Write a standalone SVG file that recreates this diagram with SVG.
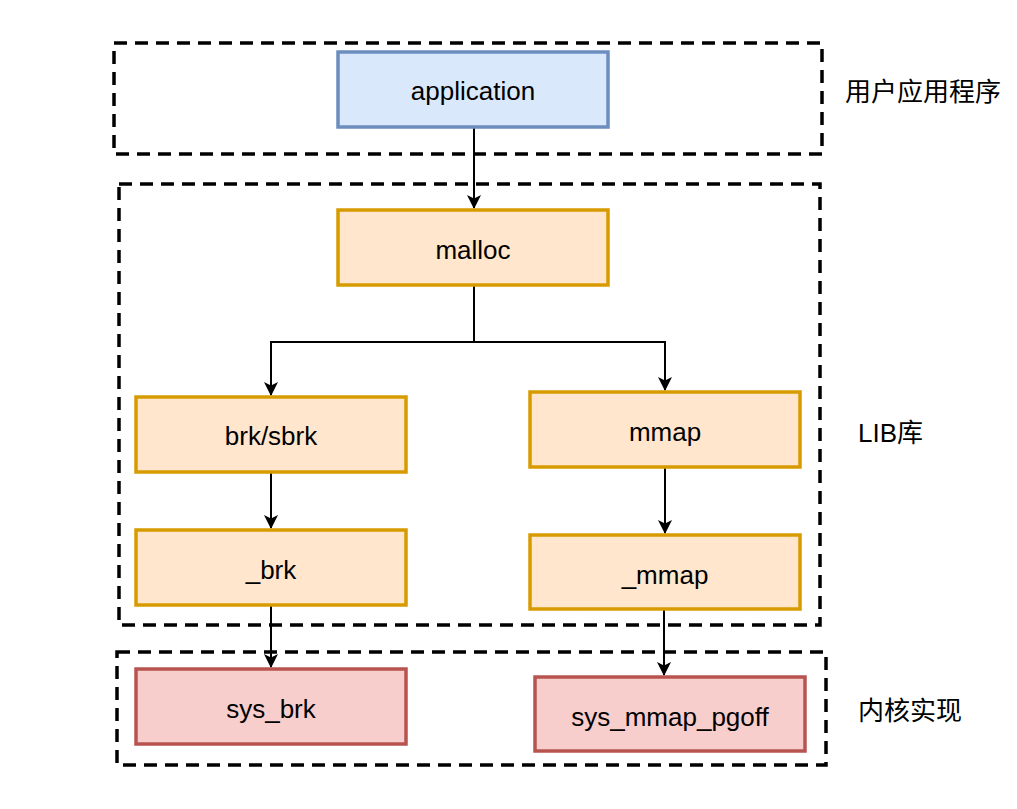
<svg xmlns="http://www.w3.org/2000/svg" width="1017" height="809" viewBox="0 0 1017 809">
<style>
.grp{fill:none;stroke:#000;stroke-width:3.5;stroke-dasharray:13 8}
.blue{fill:#dae8fc;stroke:#6c8ebf;stroke-width:3.5}
.orange{fill:#ffe6cc;stroke:#d79b00;stroke-width:3.5}
.red{fill:#f8cecc;stroke:#b85450;stroke-width:3.5}
text{font-family:"Liberation Sans","Noto Sans CJK SC",sans-serif;font-size:26px;fill:#000;dominant-baseline:central}
.c{text-anchor:middle}
.edge{fill:none;stroke:#000;stroke-width:2}
</style>
<defs>
<marker id="arr" viewBox="0 0 14 14" refX="13" refY="7" markerWidth="14" markerHeight="14" markerUnits="userSpaceOnUse" orient="auto">
<path d="M0,0 L14,7 L0,14 L3.5,7 Z" fill="#000"/>
</marker>
</defs>
<g id="groups">
<rect class="grp" x="114" y="43" width="708" height="111"/>
<rect class="grp" x="119" y="184" width="701" height="441"/>
<rect class="grp" x="117" y="652" width="709" height="113"/>
</g>
<g id="connectors">
<path class="edge" d="M474,128 V208" marker-end="url(#arr)"/>
<path class="edge" d="M474,285 V342 H271 V395" marker-end="url(#arr)"/>
<path class="edge" d="M474,342 H665 V390" marker-end="url(#arr)"/>
<path class="edge" d="M271,472 V528" marker-end="url(#arr)"/>
<path class="edge" d="M665,467 V533" marker-end="url(#arr)"/>
<path class="edge" d="M271,605 V667" marker-end="url(#arr)"/>
<path class="edge" d="M664,609 V675" marker-end="url(#arr)"/>
</g>
<g id="application"><rect class="blue" x="338" y="52" width="270" height="75"/><text class="c" x="473" y="91">application</text></g>
<g id="malloc"><rect class="orange" x="338" y="210" width="270" height="75"/><text class="c" x="473" y="250">malloc</text></g>
<g id="brk_sbrk"><rect class="orange" x="136" y="397" width="270" height="75"/><text class="c" x="271" y="436">brk/sbrk</text></g>
<g id="mmap"><rect class="orange" x="530" y="392" width="270" height="75"/><text class="c" x="665" y="432">mmap</text></g>
<g id="_brk"><rect class="orange" x="136" y="530" width="270" height="75"/><text class="c" x="271" y="570">_brk</text></g>
<g id="_mmap"><rect class="orange" x="530" y="535" width="270" height="74"/><text class="c" x="665" y="575">_mmap</text></g>
<g id="sys_brk"><rect class="red" x="136" y="669" width="270" height="75"/><text class="c" x="271" y="709">sys_brk</text></g>
<g id="sys_mmap_pgoff"><rect class="red" x="535" y="677" width="270" height="74"/><text class="c" x="670" y="717">sys_mmap_pgoff</text></g>
<g id="labels">
<text x="845" y="92">用户应用程序</text>
<text x="858" y="433">LIB库</text>
<text x="858" y="711">内核实现</text>
</g>
</svg>
